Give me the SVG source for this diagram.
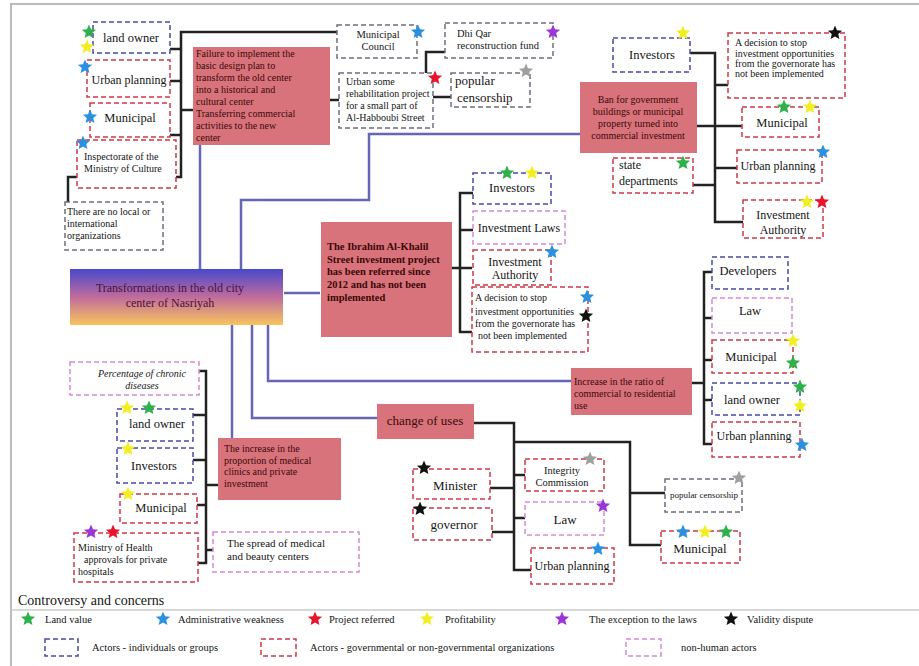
<svg xmlns="http://www.w3.org/2000/svg" width="919" height="666" viewBox="0 0 919 666">
<defs>
<linearGradient id="gc" x1="0" y1="0" x2="0" y2="1">
<stop offset="0" stop-color="#4848cc"/>
<stop offset="0.5" stop-color="#c06c9c"/>
<stop offset="1" stop-color="#f8c45c"/>
</linearGradient>
<path id="star" d="M0,-7.5 L2,-2.75 L7.13,-2.32 L3.23,1.05 L4.41,6.07 L0,3.4 L-4.41,6.07 L-3.23,1.05 L-7.13,-2.32 L-2,-2.75 Z"/>
<style>
.sal{fill:#d8737b}
.bl,.rd,.pk,.gy{fill:#fff;stroke-width:1.5;stroke-dasharray:5 3}
.bl{stroke:#4a4aa8}
.rd{stroke:#cc3a4a}
.pk{stroke:#d48ad8}
.gy{stroke:#6e6e7e}
text{font-family:"Liberation Serif","Times New Roman",serif;fill:#151515}
.ts{fill:#3c0808;font-size:10px}
.c{text-anchor:middle}
.a{font-size:12.5px}
.b{font-size:10px}
.sg{fill:#2eb04a}.sb{fill:#2a90e0}.sr{fill:#e8142c}.sy{fill:#f2ee22}.sp{fill:#9a35d8}.sk{fill:#111}.sgr{fill:#a0a0a0}
.blue{fill:none;stroke:#6666b8;stroke-width:2.5}
.blk{fill:none;stroke:#222;stroke-width:2.5}
</style>
</defs>
<rect width="919" height="666" fill="#fff"/>
<path d="M11,666 V4 H919" fill="none" stroke="#bbb" stroke-width="2"/>
<path d="M11,610 H919" fill="none" stroke="#ccc" stroke-width="1.5"/>

<g id="connectors">
<path class="blue" d="M200,145 V269"/>
<path class="blue" d="M241,269 V200 H369 V134 H580"/>
<path class="blue" d="M284,293 H320"/>
<path class="blue" d="M268,325 V381 H572"/>
<path class="blue" d="M252,325 V418 H377"/>
<path class="blue" d="M232,325 V438"/>
<path class="blk" d="M337,32 H181 V177 H68 V202"/>
<path class="blk" d="M170,49 H181 M170,81 H181 M170,135 H181 M181,110 H193"/>
<path class="blk" d="M330,100 H339"/>
<path class="blk" d="M445,52 H426 V97 H453"/>
<path class="blk" d="M690,53 H715 V222 H743 M715,85 H728 M697,126 H742 M715,168 H737 M693,185 H715"/>
<path class="blk" d="M473,193 H460 V332 H472 M460,230 H473 M452,268 H472"/>
<path class="blk" d="M712,272 H704 V444 H712 M704,318 H712 M704,360 H712 M704,400 H712 M692,383 H704"/>
<path class="blk" d="M199,371 H206 V563 H198 M193,415 H206 M193,460 H206 M197,505 H206 M206,485 H218 M206,550 H213"/>
<path class="blk" d="M474,423 H514 V570 H532 M514,442 H630 V545 H662 M630,493 H665 M490,488 H514 M514,475 H525 M492,532 H514 M514,518 H525"/>
</g>

<g id="n-central">
<rect x="70" y="269" width="213" height="56" fill="url(#gc)"/>
<text x="170" y="292" class="c" style="font-size:12px;fill:#4a1040">Transformations in the old city</text>
<text x="170" y="307" class="c" style="font-size:12px;fill:#4a1040">center of Nasriyah</text>
</g>

<g id="n-landowner1">
<rect class="bl" x="93" y="22" width="77" height="31"/>
<text x="131" y="42" class="c a">land owner</text>
<use href="#star" x="89" y="32" class="sg"/><use href="#star" x="87" y="47" class="sy"/>
</g>
<g id="n-urban1">
<rect class="rd" x="87" y="60" width="83" height="37"/>
<text x="129" y="84" class="c" style="font-size:12px">Urban planning</text>
<use href="#star" x="85" y="67" class="sb"/>
</g>
<g id="n-municipal1">
<rect class="rd" x="90" y="103" width="80" height="34"/>
<text x="130" y="122" class="c a">Municipal</text>
<use href="#star" x="90" y="117" class="sb"/>
</g>
<g id="n-inspectorate">
<rect class="rd" x="77" y="140" width="99" height="48"/>
<text x="84" y="160" class="b">Inspectorate of the</text>
<text x="84" y="172" class="b">Ministry of Culture</text>
<use href="#star" x="83" y="143" class="sb"/>
</g>
<g id="n-nolocal">
<rect class="gy" x="65" y="202" width="98" height="48"/>
<text x="67" y="215" class="b">There are no local or</text>
<text x="67" y="227" class="b">international</text>
<text x="67" y="239" class="b">organizations</text>
</g>
<g id="n-failure">
<rect class="sal" x="193" y="47" width="137" height="98"/>
<text x="196" y="57" class="ts">Failure to implement the</text>
<text x="196" y="69" class="ts">basic design plan to</text>
<text x="196" y="81" class="ts">transform the old center</text>
<text x="196" y="93" class="ts">into a historical and</text>
<text x="196" y="105" class="ts">cultural center</text>
<text x="196" y="117" class="ts">Transferring commercial</text>
<text x="196" y="129" class="ts">activities to the new</text>
<text x="196" y="141" class="ts">center</text>
</g>
<g id="n-mcouncil">
<rect class="gy" x="337" y="25" width="80" height="33"/>
<text x="378" y="38" class="c" style="font-size:10.5px">Municipal</text>
<text x="378" y="50" class="c" style="font-size:10.5px">Council</text>
<use href="#star" x="418" y="32" class="sb"/>
</g>
<g id="n-rehab">
<rect class="gy" x="339" y="73" width="94" height="55"/>
<text x="346" y="85" class="b">Urban some</text>
<text x="346" y="97" class="b">rehabilitation project</text>
<text x="346" y="109" class="b">for a small part of</text>
<text x="346" y="121" class="b">Al-Habboubi Street</text>
</g>
<g id="n-dhiqar">
<rect class="gy" x="445" y="23" width="108" height="35"/>
<text x="457" y="37" style="font-size:10.5px">Dhi Qar</text>
<text x="457" y="49" style="font-size:10.5px">reconstruction fund</text>
<use href="#star" x="553" y="32" class="sp"/>
</g>
<g id="n-popular1">
<rect class="gy" x="451" y="73" width="79" height="34"/>
<text x="455" y="85" style="font-size:13px">popular</text>
<text x="457" y="102" style="font-size:13px">censorship</text>
<use href="#star" x="526" y="71" class="sgr"/>
<use href="#star" x="435" y="78" class="sr"/>
</g>

<g id="n-ban">
<rect class="sal" x="580" y="82" width="117" height="71"/>
<text x="638" y="103" class="ts c">Ban for government</text>
<text x="638" y="115" class="ts c">buildings or municipal</text>
<text x="638" y="127" class="ts c">property turned into</text>
<text x="638" y="139" class="ts c">commercial investment</text>
</g>
<g id="n-investors1">
<rect class="bl" x="613" y="38" width="77" height="34"/>
<text x="652" y="59" class="c a">Investors</text>
<use href="#star" x="683" y="33" class="sy"/>
</g>
<g id="n-decision1">
<rect class="rd" x="728" y="33" width="117" height="65"/>
<text x="735" y="46" class="b">A decision to stop</text>
<text x="735" y="57" class="b">investment opportunities</text>
<text x="735" y="67" class="b">from the governorate has</text>
<text x="735" y="77" class="b">not been implemented</text>
<use href="#star" x="835" y="33" class="sk"/>
</g>
<g id="n-municipal2">
<rect class="rd" x="742" y="107" width="77" height="30"/>
<text x="782" y="127" class="c a">Municipal</text>
<use href="#star" x="784" y="107" class="sg"/><use href="#star" x="810" y="107" class="sy"/>
</g>
<g id="n-urban2">
<rect class="rd" x="737" y="150" width="85" height="33"/>
<text x="778" y="170" class="c" style="font-size:12px">Urban planning</text>
<use href="#star" x="823" y="152" class="sb"/>
</g>
<g id="n-state">
<rect class="rd" x="613" y="158" width="80" height="35"/>
<text x="619" y="169" style="font-size:12px">state</text>
<text x="619" y="185" style="font-size:12px">departments</text>
<use href="#star" x="683" y="163" class="sg"/>
</g>
<g id="n-invauth1">
<rect class="rd" x="743" y="200" width="80" height="38"/>
<text x="783" y="219" class="c" style="font-size:12px">Investment</text>
<text x="783" y="234" class="c" style="font-size:12px">Authority</text>
<use href="#star" x="807" y="202" class="sy"/><use href="#star" x="822" y="202" class="sr"/>
</g>

<g id="n-ibrahim">
<rect class="sal" x="321" y="222" width="131" height="115"/>
<text x="327" y="250" class="ts" style="font-size:10.5px;font-weight:bold">The Ibrahim Al-Khalil</text>
<text x="327" y="263" class="ts" style="font-size:10.5px;font-weight:bold">Street investment project</text>
<text x="327" y="275" class="ts" style="font-size:10.5px;font-weight:bold">has been referred since</text>
<text x="327" y="288" class="ts" style="font-size:10.5px;font-weight:bold">2012 and has not been</text>
<text x="327" y="301" class="ts" style="font-size:10.5px;font-weight:bold">implemented</text>
</g>
<g id="n-investors2">
<rect class="bl" x="473" y="173" width="78" height="31"/>
<text x="512" y="192" class="c a">Investors</text>
<use href="#star" x="507" y="173" class="sg"/><use href="#star" x="532" y="173" class="sy"/>
</g>
<g id="n-invlaws">
<rect class="pk" x="473" y="211" width="92" height="33"/>
<text x="519" y="232" class="c" style="font-size:12px">Investment Laws</text>
</g>
<g id="n-invauth2">
<rect class="rd" x="473" y="250" width="78" height="35"/>
<text x="515" y="266" class="c" style="font-size:12px">Investment</text>
<text x="515" y="279" class="c" style="font-size:12px">Authority</text>
<use href="#star" x="552" y="252" class="sb"/>
</g>
<g id="n-decision2">
<rect class="rd" x="472" y="287" width="116" height="65"/>
<text x="475" y="301" class="b">A decision to stop</text>
<text x="475" y="315" class="b">investment opportunities</text>
<text x="475" y="327" class="b">from the governorate has</text>
<text x="478" y="339" class="b">not been implemented</text>
<use href="#star" x="587" y="297" class="sb"/><use href="#star" x="586" y="316" class="sk"/>
</g>

<g id="n-increase">
<rect class="sal" x="571" y="368" width="121" height="47"/>
<text x="574" y="385" class="ts">Increase in the ratio of</text>
<text x="574" y="397" class="ts">commercial to residential</text>
<text x="574" y="409" class="ts">use</text>
</g>
<g id="n-developers">
<rect class="bl" x="712" y="257" width="76" height="32"/>
<text x="748" y="275" class="c a">Developers</text>
</g>
<g id="n-law1">
<rect class="pk" x="712" y="298" width="80" height="35"/>
<text x="750" y="315" class="c a">Law</text>
</g>
<g id="n-municipal3">
<rect class="rd" x="712" y="340" width="81" height="33"/>
<text x="751" y="361" class="c a">Municipal</text>
<use href="#star" x="793" y="341" class="sy"/><use href="#star" x="793" y="363" class="sg"/>
</g>
<g id="n-landowner2">
<rect class="bl" x="712" y="383" width="88" height="32"/>
<text x="752" y="404" class="c a">land owner</text>
<use href="#star" x="800" y="387" class="sg"/><use href="#star" x="800" y="406" class="sy"/>
</g>
<g id="n-urban3">
<rect class="rd" x="712" y="422" width="88" height="35"/>
<text x="754" y="440" class="c" style="font-size:12px">Urban planning</text>
<use href="#star" x="802" y="445" class="sb"/>
</g>

<g id="n-medical">
<rect class="sal" x="218" y="438" width="123" height="62"/>
<text x="224" y="452" class="ts">The increase in the</text>
<text x="224" y="464" class="ts">proportion of medical</text>
<text x="224" y="475" class="ts">clinics and private</text>
<text x="224" y="487" class="ts">investment</text>
</g>
<g id="n-percentage">
<rect class="pk" x="70" y="362" width="129" height="33"/>
<text x="142" y="377" class="c b" style="font-style:italic">Percentage of chronic</text>
<text x="142" y="389" class="c b" style="font-style:italic">diseases</text>
</g>
<g id="n-landowner3">
<rect class="bl" x="117" y="409" width="76" height="32"/>
<text x="157" y="428" class="c a">land owner</text>
<use href="#star" x="127" y="408" class="sy"/><use href="#star" x="149" y="408" class="sg"/>
</g>
<g id="n-investors3">
<rect class="bl" x="117" y="448" width="76" height="35"/>
<text x="154" y="470" class="c a">Investors</text>
<use href="#star" x="128" y="449" class="sy"/>
</g>
<g id="n-municipal4">
<rect class="rd" x="120" y="494" width="77" height="29"/>
<text x="161" y="512" class="c a">Municipal</text>
<use href="#star" x="128" y="494" class="sy"/>
</g>
<g id="n-ministry">
<rect class="rd" x="74" y="533" width="124" height="49"/>
<text x="78" y="551" class="b">Ministry of Health</text>
<text x="84" y="563" class="b">approvals for private</text>
<text x="78" y="575" class="b">hospitals</text>
<use href="#star" x="91" y="532" class="sp"/><use href="#star" x="113" y="532" class="sr"/>
</g>
<g id="n-spread">
<rect class="pk" x="213" y="532" width="146" height="40"/>
<text x="227" y="547" style="font-size:11px">The spread of medical</text>
<text x="227" y="560" style="font-size:11px">and beauty centers</text>
</g>

<g id="n-change">
<rect class="sal" x="377" y="404" width="97" height="35"/>
<text x="425" y="425" class="c" style="font-size:13px;fill:#3c0808">change of uses</text>
</g>
<g id="n-minister">
<rect class="rd" x="413" y="469" width="77" height="30"/>
<text x="455" y="490" class="c" style="font-size:13px">Minister</text>
<use href="#star" x="424" y="468" class="sk"/>
</g>
<g id="n-governor">
<rect class="rd" x="413" y="508" width="79" height="32"/>
<text x="454" y="529" class="c" style="font-size:13px">governor</text>
<use href="#star" x="420" y="509" class="sk"/>
</g>
<g id="n-integrity">
<rect class="rd" x="525" y="459" width="79" height="32"/>
<text x="562" y="474" class="c" style="font-size:10.5px">Integrity</text>
<text x="562" y="486" class="c" style="font-size:10.5px">Commission</text>
<use href="#star" x="590" y="459" class="sgr"/>
</g>
<g id="n-law2">
<rect class="pk" x="525" y="502" width="79" height="33"/>
<text x="565" y="524" class="c" style="font-size:13px">Law</text>
<use href="#star" x="603" y="506" class="sp"/>
</g>
<g id="n-urban4">
<rect class="rd" x="531" y="548" width="83" height="36"/>
<text x="572" y="570" class="c" style="font-size:12px">Urban planning</text>
<use href="#star" x="598" y="549" class="sb"/>
</g>
<g id="n-popular2">
<rect class="gy" x="665" y="479" width="77" height="33"/>
<text x="704" y="498" class="c" style="font-size:9px">popular censorship</text>
<use href="#star" x="739" y="478" class="sgr"/>
</g>
<g id="n-municipal5">
<rect class="rd" x="661" y="531" width="79" height="32"/>
<text x="700" y="553" class="c" style="font-size:13px">Municipal</text>
<use href="#star" x="683" y="532" class="sb"/><use href="#star" x="705" y="532" class="sy"/><use href="#star" x="726" y="532" class="sg"/>
</g>

<g id="legend" style="font-size:10.5px">
<text x="18" y="605" style="font-size:14px">Controversy and concerns</text>
<use href="#star" x="28" y="619" class="sg"/><text x="45" y="623">Land value</text>
<use href="#star" x="163" y="619" class="sb"/><text x="178" y="623">Administrative weakness</text>
<use href="#star" x="315" y="619" class="sr"/><text x="329" y="623">Project referred</text>
<use href="#star" x="427" y="619" class="sy"/><text x="445" y="623">Profitability</text>
<use href="#star" x="562" y="619" class="sp"/><text x="589" y="623">The exception to the laws</text>
<use href="#star" x="731" y="619" class="sk"/><text x="747" y="623">Validity dispute</text>
<rect class="bl" x="45" y="639" width="33" height="17"/><text x="92" y="651">Actors - individuals or groups</text>
<rect class="rd" x="261" y="639" width="35" height="17"/><text x="310" y="651">Actors - governmental or non-governmental organizations</text>
<rect class="pk" x="626" y="639" width="35" height="17"/><text x="681" y="651">non-human actors</text>
</g>
</svg>
